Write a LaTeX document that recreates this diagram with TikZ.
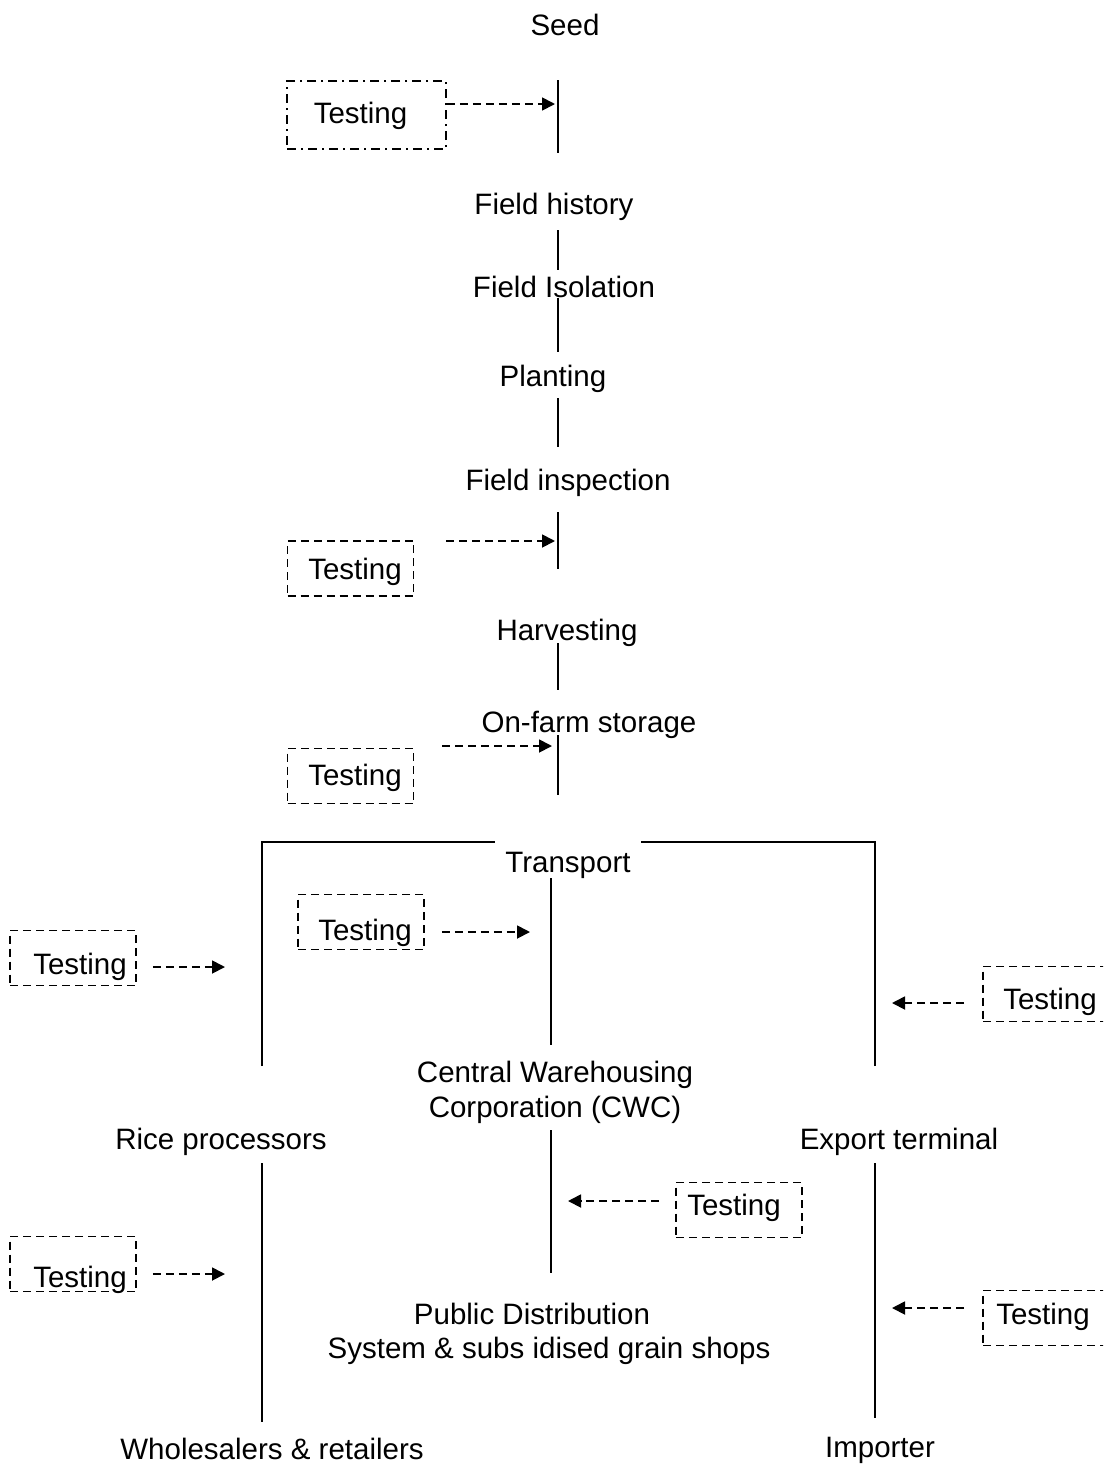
\documentclass[tikz,border=0pt]{standalone}
\usepackage{fontspec}
\setmainfont{Liberation Sans}
\usetikzlibrary{arrows.meta}

% "Testing" text, moved right by #1/2 and up by #2 inside its box
\newcommand{\tlbl}[2]{\hspace*{#1}\raisebox{#2}[\height][\depth]{Testing}}

\tikzset{
  lbl/.style={inner sep=0pt, yshift=-2.5pt, font=\fontsize{29.5}{35}\selectfont},
  testbox/.style={draw, dash pattern=on 8pt off 5pt, minimum width=126pt, minimum height=55pt,
    inner sep=0pt, font=\fontsize{29.5}{35}\selectfont},
  testarrow/.style={dash pattern=on 8pt off 5pt, -{Triangle[length=13pt,width=13pt]}},
}

\begin{document}
\begin{tikzpicture}[x=1pt, y=-1pt, line width=1.8pt]
\clip (0,0) rectangle (1103,1467);
% stages
\node[lbl] (seed) at (565,22) {Seed};
\node[lbl] (fhist) at (554,204) {Field history};
\node[lbl] (fiso) at (564,284) {Field Isolation};
\node[lbl] (plant) at (553,376) {Planting};
\node[lbl] (finsp) at (568,480) {Field inspection};
\node[lbl] (harv) at (567,630) {Harvesting};
\node[lbl] (store) at (589,722) {On-farm storage};
\node[lbl] (trans) at (568,863) {Transport};
\node[lbl, align=center] (cwc) at (555,1090) {Central Warehousing\\Corporation (CWC)};
\node[lbl] (rice) at (221,1139) {Rice processors};
\node[lbl] (export) at (899,1139) {Export terminal};
\node[lbl] (pds) at (532,1311) {Public Distribution};
\node[lbl] (pdsb) at (549,1348) {System \& subs idised grain shops};
\node[lbl, yshift=2.5pt] (whole) at (272,1449) {Wholesalers \& retailers};
\node[lbl, yshift=2.5pt] (import) at (880,1450) {Importer};

% testing boxes
\node[testbox, dash pattern=on 9pt off 5pt on 2pt off 5pt, minimum width=159pt, minimum height=68pt] (t1) at (366.5,115) {\tlbl{-12pt}{-1pt}};
\node[testbox] (t2) at (350.5,568.5) {\tlbl{9pt}{-3.5pt}};
\node[testbox] (t3) at (350.5,776) {\tlbl{9pt}{-2pt}};
\node[testbox] (t4) at (361,922) {\tlbl{8pt}{-11pt}};
\node[testbox] (t5) at (73,958) {\tlbl{14pt}{-9pt}};
\node[testbox] (t6) at (1046,994) {\tlbl{8pt}{-8pt}};
\node[testbox] (t7) at (739,1210) {\tlbl{-10pt}{2pt}};
\node[testbox] (t8) at (73,1264) {\tlbl{14pt}{-16pt}};
\node[testbox] (t9) at (1046,1318) {\tlbl{-6pt}{1.5pt}};

% ends of the stems
\coordinate (s1t) at (558,80);  \coordinate (s1b) at (558,153);
\coordinate (s2t) at (558,230); \coordinate (s2b) at (558,270);
\coordinate (s3t) at (558,298); \coordinate (s3b) at (558,352);
\coordinate (s4t) at (558,398); \coordinate (s4b) at (558,447);
\coordinate (s5t) at (558,512); \coordinate (s5b) at (558,569);
\coordinate (s6t) at (558,643); \coordinate (s6b) at (558,690);
\coordinate (s7t) at (558,735); \coordinate (s7b) at (558,795);
\coordinate (s8t) at (551,878); \coordinate (s8b) at (551,1045);
\coordinate (s9t) at (551,1130); \coordinate (s9b) at (551,1273);
\coordinate (lt) at (262,1163); \coordinate (lb) at (262,1422);
\coordinate (rt) at (875,1163); \coordinate (rb) at (875,1418);
\coordinate (fl) at (262,1066); \coordinate (fla) at (495,842);
\coordinate (fr) at (875,1066); \coordinate (fra) at (641,842);

\foreach \i in {1,...,9} \draw (s\i t) -- (s\i b);
\draw (lt) -- (lb);
\draw (rt) -- (rb);
\draw (fl) |- (fla);
\draw (fr) |- (fra);

% arrow targets
\coordinate (a1) at (555,104);
\coordinate (a2) at (555,541);
\coordinate (a3) at (552,746);
\coordinate (a4) at (530,932);
\coordinate (a5) at (225,967);
\coordinate (a6) at (892,1003);
\coordinate (a7) at (568,1201);
\coordinate (a8) at (225,1274);
\coordinate (a9) at (892,1308);

\draw[testarrow] (t1.east |- a1) -- (a1);
\draw[testarrow, shorten <=32pt] (t2.east |- a2) -- (a2);
\draw[testarrow, shorten <=28pt] (t3.east |- a3) -- (a3);
\draw[testarrow, shorten <=17pt] (t4.east |- a4) -- (a4);
\draw[testarrow, shorten <=16pt] (t5.east |- a5) -- (a5);
\draw[testarrow, shorten <=18pt] (t6.west |- a6) -- (a6);
\draw[testarrow, shorten <=16pt] (t7.west |- a7) -- (a7);
\draw[testarrow, shorten <=16pt] (t8.east |- a8) -- (a8);
\draw[testarrow, shorten <=18pt] (t9.west |- a9) -- (a9);
\end{tikzpicture}
\end{document}
